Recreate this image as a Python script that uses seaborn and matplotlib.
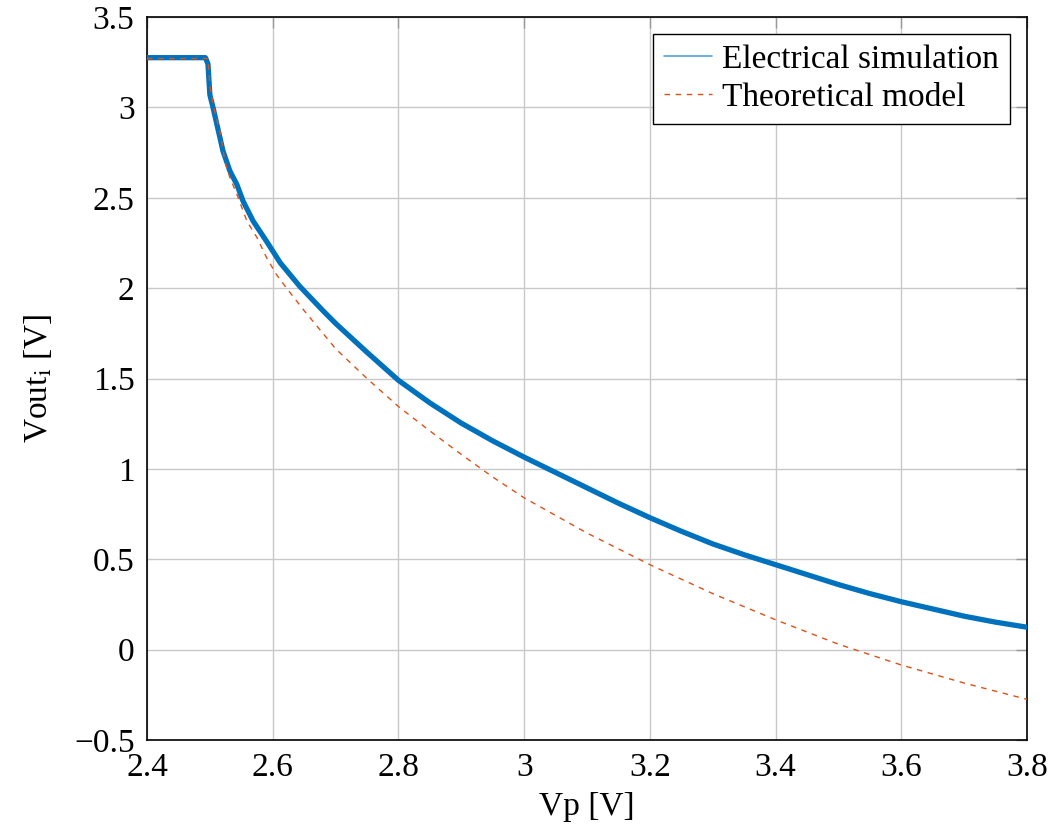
import matplotlib
matplotlib.use("Agg")
import matplotlib.pyplot as plt
import seaborn as sns
import numpy as np

# --- data ---
sim_vp = [2.40, 2.45, 2.493, 2.497, 2.500, 2.505, 2.521, 2.532, 2.543, 2.553, 2.569,
          2.590, 2.612, 2.643, 2.680, 2.70, 2.75, 2.80, 2.85, 2.90, 2.95, 3.00,
          3.05, 3.10, 3.15, 3.20, 3.25, 3.30, 3.35, 3.40, 3.45, 3.50, 3.55,
          3.60, 3.65, 3.70, 3.75, 3.80]
sim_vout = [3.275, 3.275, 3.275, 3.24, 3.07, 3.00, 2.757, 2.647, 2.573, 2.48, 2.37,
            2.26, 2.14, 2.01, 1.875, 1.805, 1.645, 1.49, 1.365, 1.253, 1.155, 1.065,
            0.98, 0.895, 0.81, 0.73, 0.655, 0.585, 0.525, 0.47, 0.415, 0.36, 0.31,
            0.265, 0.225, 0.185, 0.152, 0.124]

mod_vp = [2.40, 2.497, 2.500, 2.506, 2.516, 2.524, 2.532, 2.543, 2.559, 2.575, 2.590,
          2.606, 2.622, 2.649, 2.70, 2.75, 2.80, 2.85, 2.90, 2.95, 3.00, 3.10, 3.20,
          3.30, 3.40, 3.50, 3.60, 3.70, 3.80]
mod_vout = [3.27, 3.27, 3.12, 3.00, 2.87, 2.70, 2.61, 2.52, 2.37, 2.28, 2.17,
            2.075, 2.00, 1.88, 1.665, 1.50, 1.345, 1.21, 1.08, 0.955, 0.84, 0.645, 0.47,
            0.31, 0.165, 0.03, -0.085, -0.185, -0.275]

x_ticks = [2.4, 2.6, 2.8, 3.0, 3.2, 3.4, 3.6, 3.8]
x_tick_labels = ["2.4", "2.6", "2.8", "3", "3.2", "3.4", "3.6", "3.8"]
y_ticks = [-0.5, 0, 0.5, 1, 1.5, 2, 2.5, 3, 3.5]
y_tick_labels = ["\u22120.5", "0", "0.5", "1", "1.5", "2", "2.5", "3", "3.5"]

sns.set_style("white")
plt.rcParams["font.family"] = ["Liberation Serif", "DejaVu Serif"]
plt.rcParams["mathtext.fontset"] = "stix"
plt.rcParams["text.color"] = "black"
plt.rcParams["axes.labelcolor"] = "black"

fig = plt.figure(figsize=(10.53, 8.32), dpi=100)
ax = fig.add_axes([147 / 1053, 92 / 832, 880 / 1053, 723 / 832])

blue = "#0072BD"
red = "#D95319"

sns.lineplot(x=sim_vp, y=sim_vout, ax=ax, color=blue, linewidth=3.8,
             label="Electrical simulation", estimator=None, sort=False, zorder=3)
sns.lineplot(x=mod_vp, y=mod_vout, ax=ax, color=red, linewidth=1.0,
             linestyle=(0, (4, 4)), label="Theoretical model",
             estimator=None, sort=False, zorder=4)

ax.set_xlim(2.4, 3.8)
ax.set_ylim(-0.5, 3.5)
ax.set_xticks(x_ticks)
ax.set_xticklabels(x_tick_labels)
ax.set_yticks(y_ticks)
ax.set_yticklabels(y_tick_labels)

ax.grid(True, color="#c8c8c8", linewidth=1.0, zorder=0)
ax.set_axisbelow(True)
ax.tick_params(direction="in", length=8, width=1.0, labelsize=24,
               top=True, right=True, pad=9, colors="black")
ax.tick_params(axis="both", which="both", color="#999999")
for s in ax.spines.values():
    s.set_visible(True)
    s.set_color("black")
    s.set_linewidth(1.2)

ax.set_xlabel("Vp [V]", fontsize=24, labelpad=6, color="black")
ax.set_ylabel(r"Vout$_{\mathrm{i}}$ [V]", fontsize=24, labelpad=14, color="black")

leg = ax.legend(loc="upper right", fontsize=24, frameon=True, fancybox=False,
                edgecolor="black", framealpha=1.0, borderaxespad=0.5,
                handlelength=1.45, handletextpad=0.3, borderpad=0.33,
                labelspacing=0.22)
leg.get_frame().set_linewidth(1.0)
for t in leg.get_texts():
    t.set_color("black")
lines = leg.get_lines()
lines[0].set_linewidth(1.2)
lines[0].set_color("#4da3dc")

fig.savefig("out.png", dpi=100)
